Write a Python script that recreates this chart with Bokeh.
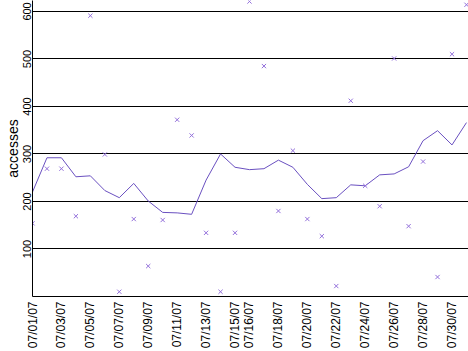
from bokeh.plotting import figure
from bokeh.models import Range1d, FixedTicker, ColumnDataSource
from bokeh.embed import file_html
from bokeh.resources import INLINE

# ---- data ----
dates = ["07/%02d/07" % d for d in range(1, 32)]
accesses = [154, 269, 269, 169, 591, 299, 10, 163, 64, 161, 372, 339, 134, 10, 134,
            621, 485, 180, 307, 163, 127, 22, 412, 233, 190, 501, 148, 284, 41, 510, 614]
average = [220, 292, 292, 252, 254, 223, 208, 238, 201, 177, 176, 173, 245, 300, 272,
           267, 269, 287, 272, 236, 206, 208, 235, 233, 256, 258, 273, 328, 349, 319, 366]
tick_days = [0, 2, 4, 6, 8, 10, 12, 14, 15, 17, 19, 21, 23, 25, 27, 29]
y_ticks = [100, 200, 300, 400, 500, 600]

idx = list(range(len(dates)))
src = ColumnDataSource(dict(x=idx, acc=accesses, avg=average))

p = figure(width=468, height=351, output_backend="svg", toolbar_location=None,
           x_range=Range1d(0, 30.14), y_range=Range1d(0, 623),
           min_border_left=32, min_border_bottom=53, min_border_top=0, min_border_right=0)
p.outline_line_color = None
p.background_fill_color = "white"
p.border_fill_color = "white"

p.line("x", "avg", source=src, line_color="#6a50c0", line_width=1)
p.scatter("x", "acc", source=src, marker="x", size=6, line_color="#9370db", line_width=1)

# x axis
p.xaxis.ticker = FixedTicker(ticks=tick_days)
p.xaxis.major_label_overrides = {i: dates[i] for i in tick_days}
p.xaxis.major_label_orientation = 1.5708
p.xaxis.major_label_text_font = "Liberation Sans"
p.xaxis.major_label_text_font_size = "12px"
p.xaxis.major_label_text_color = "black"
p.xaxis.major_label_standoff = 5
p.xaxis.major_tick_out = 0
p.xaxis.major_tick_in = 0
p.xaxis.minor_tick_out = 0
p.xaxis.minor_tick_in = 0
p.xaxis.axis_line_color = "black"

# y axis
p.yaxis.ticker = FixedTicker(ticks=y_ticks)
p.yaxis.major_label_orientation = "parallel"
p.yaxis.major_label_text_font = "Liberation Sans"
p.yaxis.major_label_text_font_size = "11px"
p.yaxis.major_label_text_color = "black"
p.yaxis.major_label_standoff = 1
p.yaxis.major_tick_out = 0
p.yaxis.major_tick_in = 0
p.yaxis.minor_tick_out = 0
p.yaxis.minor_tick_in = 0
p.yaxis.axis_line_color = "black"
p.yaxis.axis_label = "accesses"
p.yaxis.axis_label_text_font = "Liberation Sans"
p.yaxis.axis_label_text_font_style = "normal"
p.yaxis.axis_label_text_font_size = "14px"
p.yaxis.axis_label_text_color = "black"
p.yaxis.axis_label_standoff = 0

p.xgrid.visible = False
p.ygrid.ticker = FixedTicker(ticks=y_ticks)
p.ygrid.grid_line_color = "black"
p.ygrid.grid_line_alpha = 1.0
p.ygrid.grid_line_width = 1

open("out.html", "w").write(file_html(p, INLINE))
